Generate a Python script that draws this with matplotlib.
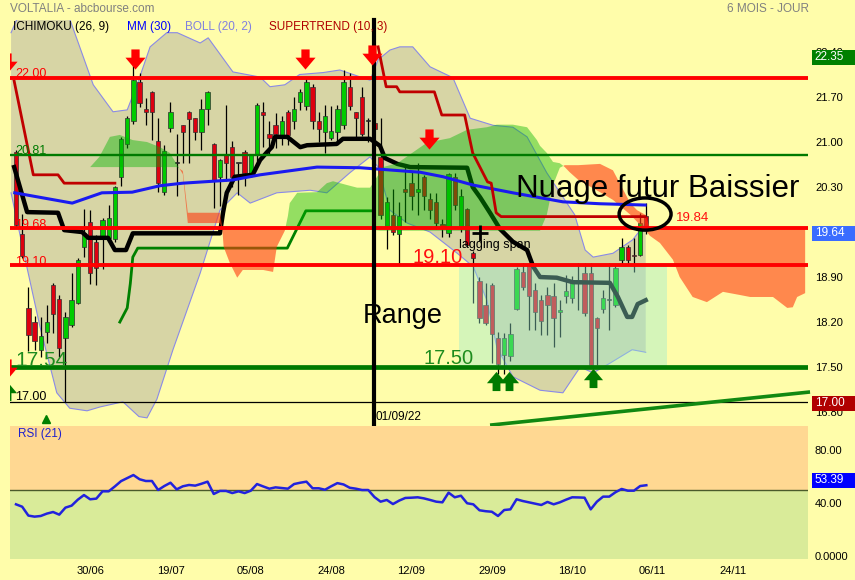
import numpy as np
import matplotlib.pyplot as plt
import matplotlib.transforms as mtrans
from matplotlib.path import Path
from matplotlib.patches import Rectangle, Ellipse

plt.rcParams['font.family'] = ['Liberation Sans', 'DejaVu Sans']

fond = '#FFFDAA'

# bougies journalieres (index 0 = 14/06/22)
opens = [20.85, 19.57, 18.42, 18.20, 17.77, 18.05, 18.77, 18.56, 17.95, 18.15,
         18.50, 19.37, 19.76, 19.45, 19.51, 19.51, 19.49, 20.46, 20.97, 21.32,
         21.94, 21.51, 21.78, 21.02, 20.22, 21.22, 20.67, 21.26, 21.47, 21.37,
         21.16, 21.51, 20.97, 20.46, 20.81, 20.92, 20.67, 20.85, 20.52, 20.80,
         21.47, 21.12, 21.26, 21.11, 21.47, 21.32, 21.63, 21.56, 21.86, 21.33,
         21.16, 21.06, 21.16, 21.26, 21.86, 21.46, 21.70, 21.32, 21.30, 20.77,
         19.70, 19.86, 19.57, 20.27, 20.36, 20.22, 20.46, 20.11, 20.06, 19.72,
         19.58, 20.46, 19.69, 19.96, 19.28, 18.84, 18.46, 18.77, 17.95, 17.69,
         17.67, 18.41, 18.98, 19.09, 18.70, 18.55, 18.62, 18.61, 18.35, 18.61,
         18.58, 18.81, 18.96, 18.96, 18.26, 18.41, 18.54, 18.46, 19.16, 19.36,
         19.25, 19.24, 19.85]
highs = [20.88, 19.88, 18.75, 18.30, 18.28, 18.47, 18.80, 18.62, 18.35, 18.96,
         19.20, 19.96, 19.94, 19.55, 19.82, 20.02, 20.32, 21.08, 21.40, 22.20,
         22.07, 21.68, 21.80, 21.37, 20.95, 21.63, 21.12, 21.27, 21.48, 21.38,
         21.67, 21.79, 20.98, 20.74, 21.58, 21.01, 20.68, 20.87, 20.82, 21.60,
         21.63, 21.33, 21.45, 21.40, 21.50, 21.70, 21.83, 22.00, 21.90, 21.47,
         21.58, 21.56, 21.58, 22.12, 22.07, 21.47, 21.86, 21.37, 21.37, 21.37,
         20.15, 20.27, 20.06, 20.66, 20.55, 20.67, 20.48, 20.20, 20.20, 19.80,
         20.52, 20.52, 20.27, 19.98, 19.30, 18.90, 18.81, 18.80, 18.05, 18.03,
         18.19, 19.05, 19.12, 19.12, 18.81, 18.62, 18.75, 18.81, 18.54, 18.93,
         18.91, 19.12, 19.12, 19.12, 18.28, 18.70, 19.12, 19.09, 19.51, 19.40,
         19.51, 19.90, 20.05]
lows = [19.68, 19.20, 17.75, 17.77, 17.65, 17.87, 18.03, 17.66, 16.96, 18.12,
        18.48, 19.21, 18.79, 18.77, 19.03, 19.45, 19.45, 20.32, 20.90, 21.28,
        21.55, 21.26, 21.03, 20.23, 20.18, 21.16, 20.16, 20.67, 20.67, 21.03,
        20.87, 21.26, 19.97, 20.00, 20.40, 20.30, 20.17, 20.32, 20.45, 20.70,
        20.92, 20.80, 20.90, 20.95, 20.95, 21.20, 21.50, 21.50, 21.20, 21.00,
        20.83, 21.03, 21.00, 21.20, 21.50, 21.03, 21.10, 21.00, 21.10, 19.80,
        19.34, 19.55, 19.09, 19.76, 19.94, 19.86, 19.95, 19.80, 19.65, 19.53,
        19.53, 19.95, 19.60, 19.38, 18.49, 18.18, 18.15, 17.56, 17.40, 17.40,
        17.60, 18.38, 18.70, 18.08, 18.07, 18.00, 18.00, 17.82, 17.97, 18.49,
        18.49, 18.39, 18.30, 17.48, 17.53, 18.34, 18.08, 18.44, 19.09, 19.09,
        18.98, 19.22, 19.57]
closes = [19.71, 19.23, 18.00, 17.90, 17.99, 18.20, 18.33, 17.80, 18.28, 18.54,
          19.17, 19.58, 18.96, 19.04, 19.79, 19.82, 20.30, 21.05, 21.37, 21.96,
          21.61, 21.46, 21.47, 20.36, 20.86, 21.47, 20.67, 21.16, 21.36, 21.16,
          21.51, 21.78, 20.40, 20.72, 20.67, 20.46, 20.67, 20.52, 20.81, 21.58,
          21.42, 21.06, 21.12, 21.33, 21.11, 21.51, 21.78, 21.94, 21.32, 21.21,
          21.41, 21.17, 21.51, 21.94, 21.56, 21.37, 21.12, 21.32, 21.20, 19.86,
          20.07, 19.60, 19.85, 20.22, 20.16, 20.27, 20.16, 19.95, 19.74, 19.68,
          20.51, 20.02, 20.16, 19.40, 19.19, 18.26, 18.19, 18.01, 17.55, 17.95,
          18.01, 19.02, 18.75, 18.60, 18.35, 18.21, 18.46, 18.27, 18.39, 18.68,
          18.82, 18.85, 18.34, 17.53, 18.10, 18.57, 18.54, 19.04, 19.36, 19.16,
          19.23, 19.74, 19.64]

rsi = [39.0, 37.2, 30.5, 29.7, 30.2, 32.0, 33.2, 31.2, 36.5, 38.0,
       42.5, 46.0, 42.8, 43.3, 48.8, 48.8, 52.5, 56.5, 58.8, 61.1,
       57.9, 56.6, 56.6, 49.8, 52.8, 55.3, 50.3, 52.6, 53.6, 53.1,
       54.5, 56.1, 46.8, 49.1, 49.1, 47.5, 48.8, 47.5, 49.3, 54.3,
       52.5, 50.8, 51.8, 51.3, 50.8, 54.3, 55.3, 56.1, 51.1, 51.1,
       50.0, 52.6, 55.0, 54.0, 51.5, 50.8, 49.8, 49.8, 44.5, 41.0,
       42.3, 39.2, 41.8, 43.8, 44.0, 44.3, 43.5, 42.3, 41.0, 40.5,
       47.8, 44.3, 45.5, 39.8, 39.0, 34.5, 33.8, 33.4, 30.2, 34.7,
       35.2, 42.8, 41.5, 40.5, 39.5, 38.5, 40.8, 39.0, 40.5, 42.5,
       44.3, 44.2, 44.0, 35.2, 41.0, 44.8, 44.8, 48.1, 50.6, 49.3,
       49.3, 52.8, 53.4]

# bandes de Bollinger (points releves)
boll_up_x = [-0.8, 1.0, 8.0, 9.9, 12.5, 15.7, 18.0, 19.7, 21.7, 24.4, 26.1, 29.8, 31.1,
             35.1, 39.5, 41.1, 43.5, 45.9, 49.7, 52.4, 57.3, 58.6, 60.5, 62.1, 64.2,
             67.0, 70.7, 73.5, 77.2, 80.4, 82.7, 85.9, 88.8, 90.4, 92.1, 93.4, 96.6,
             99.8, 101.9]
boll_up_y = [22.70, 23.10, 23.10, 22.59, 21.89, 21.47, 21.50, 21.92, 22.48, 22.70, 22.70,
             22.54, 22.62, 22.09, 22.01, 21.86, 21.89, 22.05, 22.08, 22.12, 21.96, 22.28,
             22.43, 22.48, 22.48, 22.17, 22.00, 21.37, 21.26, 21.23, 21.08, 20.52, 20.10,
             19.87, 19.32, 19.21, 19.27, 19.48, 19.74]
boll_low_x = [-0.8, 1.5, 3.9, 6.6, 8.7, 11.5, 13.6, 17.3, 19.9, 21.2, 22.8, 25.4, 29.8,
              33.0, 35.8, 37.9, 42.2, 47.6, 50.3, 54.0, 57.3, 58.6, 60.5, 63.3, 67.0,
              71.4, 74.0, 76.2, 77.8, 80.4, 84.8, 88.5, 91.3, 93.4, 96.1, 99.7, 101.9]
boll_low_y = [20.21, 19.17, 18.12, 17.10, 16.86, 16.82, 16.88, 16.96, 16.73, 16.71, 17.00,
              17.77, 18.96, 19.94, 20.21, 20.05, 20.21, 20.25, 20.21, 20.52, 20.77, 20.61,
              19.94, 19.74, 19.60, 19.27, 19.06, 18.54, 17.81, 17.35, 17.14, 17.10, 17.50,
              17.41, 17.56, 17.77, 17.73]

mm30_x = [-0.2, 9.1, 13.9, 18.8, 23.3, 27.0, 35.1, 39.5, 48.7, 55.7, 65.4, 69.1, 74.0,
          80.4, 88.5, 94.5, 101.8]
mm30_y = [20.21, 20.05, 20.21, 20.22, 20.32, 20.36, 20.41, 20.49, 20.61, 20.60, 20.53,
          20.46, 20.33, 20.21, 20.07, 20.04, 20.02]

# ligne noire ichimoku
kijun_x = [-0.3, 1.8, 6.8, 7.8, 10.7, 11.7, 14.9, 16.0, 17.8, 18.9, 33.0, 33.5, 34.1,
           35.4, 38.3, 39.5, 40.6, 41.4, 41.9, 43.9, 46.0, 47.1, 51.9, 52.9, 57.3, 58.9,
           59.7, 61.7, 63.8, 73.0, 73.9, 75.1, 76.7, 78.3, 80.4, 82.7, 83.7, 84.8, 87.5,
           90.1, 96.1, 97.4, 98.9, 99.7, 100.6, 101.9]
kijun_y = [20.61, 19.91, 19.90, 19.63, 19.60, 19.51, 19.51, 19.32, 19.32, 19.58, 19.58,
           19.90, 20.21, 20.46, 20.49, 20.72, 20.84, 20.92, 21.08, 21.08, 20.92, 20.95,
           20.97, 21.05, 21.05, 20.94, 20.75, 20.66, 20.61, 20.60, 20.30, 20.14, 19.90,
           19.65, 19.45, 19.32, 19.06, 18.90, 18.89, 18.82, 18.81, 18.59, 18.28, 18.28,
           18.48, 18.54]

vert_x = [16.8, 18.0, 18.5, 18.9, 19.7, 43.9, 46.9, 57.8]
vert_y = [18.20, 18.42, 18.80, 19.21, 19.35, 19.35, 19.93, 19.93]

st1_x = [-0.3, 2.8, 6.8, 7.8, 16.0]
st1_y = [21.95, 20.49, 20.49, 20.36, 20.36]
st2_x = [58.6, 59.9, 61.6, 62.1, 67.7, 68.9, 72.6, 73.9, 76.3, 76.9, 77.7, 78.5, 101.8]
st2_y = [22.48, 21.86, 21.86, 21.78, 21.78, 21.42, 21.42, 20.83, 20.38, 20.36, 19.90,
         19.84, 19.84]

# nuage (senkou A / B)
cloud_x = [12.0, 13.5, 15.2, 16.8, 18.9, 21.2, 23.3, 24.9, 26.1, 27.0, 27.8, 33.0, 33.4,
           33.6, 34.6, 35.8, 36.7, 40.0, 41.6, 42.2, 43.5, 44.0, 44.3, 45.5, 48.7, 50.3,
           51.3, 53.6, 55.2, 57.3, 58.9, 59.4, 61.7, 66.5, 70.2, 73.0, 76.2, 77.8, 80.4,
           82.7, 84.3, 84.8, 85.9, 86.9, 88.0, 88.8, 89.6, 91.0, 94.5, 96.6, 99.4, 100.5,
           101.8, 102.6, 104.2, 106.3, 107.4, 109.5, 111.8, 114.4, 117.2, 118.8, 122.5,
           124.8, 125.7, 126.4, 127.7]
span_a = [20.61, 20.77, 21.08, 21.11, 21.03, 21.00, 20.92, 20.83, 20.64, 20.50, 19.74,
          19.74, 19.63, 19.37, 19.12, 18.89, 19.01, 19.01, 18.98, 19.37, 19.62, 19.85,
          20.05, 20.21, 20.22, 20.36, 20.39, 20.33, 20.29, 20.29, 20.53, 20.61, 20.67,
          20.99, 21.06, 21.19, 21.23, 21.27, 21.27, 21.23, 21.03, 20.94, 20.83, 20.69,
          20.67, 20.61, 20.53, 20.41, 20.22, 20.10, 19.87, 19.76, 19.63, 19.54, 19.43,
          19.17, 18.90, 18.59, 18.51, 18.67, 18.62, 18.59, 18.59, 18.42, 18.43, 18.59,
          18.65]
span_b = [20.61, 20.61, 20.61, 20.61, 20.61, 20.61, 20.61, 20.61, 20.61, 20.55, 19.90,
          19.90, 19.66, 19.66, 19.66, 19.66, 19.66, 19.66, 19.66, 19.66, 19.66, 19.64,
          19.64, 19.64, 19.64, 19.64, 19.64, 19.64, 19.64, 19.64, 19.62, 19.62, 19.62,
          19.62, 19.62, 19.62, 19.62, 19.62, 19.62, 19.62, 19.62, 19.62, 19.87, 20.33,
          20.60, 20.64, 20.64, 20.64, 20.66, 20.56, 20.05, 19.94, 19.87, 19.66, 19.66,
          19.66, 19.66, 19.66, 19.66, 19.66, 19.66, 19.66, 19.66, 19.66, 19.66, 19.66,
          19.66]

# niveaux traces a la main
niveaux = [22.00, 20.80, 19.66, 19.08, 17.50]
niveaux_txt = ['22.00', '20.81', '19.68', '19.10', '17.54']
niveaux_col = ['#FF0000', '#007A00', '#FF0000', '#FF0000', '#007A00']
niveaux_lw = [2.8, 1.7, 2.8, 2.8, 3.4]
support_bas = 16.96

trend_x = [77.0, 128.2]
trend_y = [16.60, 17.11]

sell_x = [-1.46, 19.2, 46.8, 57.6, 66.8, -1.46]
sell_y = [22.23, 22.29, 22.29, 22.35, 21.05, 17.47]
buy_x = [77.6, 79.7, 93.3, -1.46]
buy_y = [17.28, 17.28, 17.33, 17.13]

split_day = 57.9
date_pos = [12, 25, 38, 51, 64, 77, 90, 103, 116]
date_lab = ['30/06', '19/07', '05/08', '24/08', '12/09', '29/09', '18/10', '06/11', '24/11']
prix_ticks = [16.8, 17.5, 18.2, 18.9, 19.6, 20.3, 21.0, 21.7, 22.4]

days = np.arange(len(closes))
o = np.array(opens); c = np.array(closes)

fig = plt.figure(figsize=(8.55, 5.8), dpi=100)
fig.patch.set_facecolor(fond)
ax = fig.add_axes([10/855, 1-420/580, 798/855, 400/580])
ax2 = fig.add_axes([10/855, 1-559/580, 798/855, 133/580])
for a in (ax, ax2):
    a.set_facecolor(fond)
    for s in a.spines.values():
        s.set_visible(False)
    a.set_xlim(-0.97, 128.16)
ax.set_ylim(16.677, 22.8975)
ax2.set_ylim(-2.26, 98.1)

# bollinger
ax.fill(np.r_[boll_up_x, boll_low_x[::-1]], np.r_[boll_up_y, boll_low_y[::-1]],
        color='#D7D5A5', lw=0, zorder=1)
ax.plot(boll_up_x, boll_up_y, color='#8A8AE6', lw=0.8, zorder=1.2)
ax.plot(boll_low_x, boll_low_y, color='#8A8AE6', lw=0.8, zorder=1.2)

# chandeliers
up = c >= o
col = np.where(up, '#00CC00', '#DD0010')
haut = np.abs(c - o)
col = np.where(haut < 0.005, '#000000', col)
ax.vlines(days, lows, highs, color='black', lw=0.9, zorder=2)
ax.bar(days, np.maximum(haut, 0.018), bottom=np.minimum(o, c), width=0.7, color=col,
       edgecolor='#303030', lw=0.5, zorder=2.1)

ax.plot(kijun_x, kijun_y, color='black', lw=3.2, zorder=2.3, solid_joinstyle='round')
ax.plot(vert_x, vert_y, color='#008000', lw=2, zorder=2.3)

# nuage
ca = np.array(span_a); cb = np.array(span_b)
ax.fill_between(cloud_x, ca, cb, where=ca >= cb, interpolate=True, color='#00B400',
                alpha=0.42, lw=0, zorder=3)
ax.fill_between(cloud_x, ca, cb, where=ca < cb, interpolate=True, color='#FF3A10',
                alpha=0.6, lw=0, zorder=3)

# zone de range
ax.add_patch(Rectangle((71.7, 17.52), 105.3-71.7, 19.07-17.52, color='#96EBD2',
                       alpha=0.4, lw=0, zorder=3.5))

ax.plot(mm30_x, mm30_y, color='#1A1AF0', lw=2.2, zorder=4)
ax.plot(st1_x, st1_y, color='#C00000', lw=2, zorder=4)
ax.plot(st2_x, st2_y, color='#C00000', lw=2, zorder=4)

for v, t, cl, lw in zip(niveaux, niveaux_txt, niveaux_col, niveaux_lw):
    ax.axhline(v, color=cl, lw=lw, zorder=5)
for v, t, cl in zip(niveaux[:4], niveaux_txt[:4], niveaux_col[:4]):
    ax.text(-0.15, v + 0.01, t, color=cl, fontsize=9, va='baseline', zorder=6)
ax.text(-0.15, 17.52, niveaux_txt[4], color='#1E8C1E', fontsize=15, va='baseline', zorder=6)
ax.axhline(support_bas, color='black', lw=0.9, zorder=5)
ax.text(-0.15, 16.99, '17.00', color='black', fontsize=9, va='baseline', zorder=6)

ax.plot(trend_x, trend_y, color='#118811', lw=2.6, zorder=5, clip_on=False)

ax.plot([split_day, split_day], [16.537, 22.8975], color='black', lw=3, zorder=6,
        clip_on=False)
ax.text(split_day + 0.35, 16.73, '01/09/22', fontsize=8.5, va='center', zorder=6)

# fleches supertrend
fl_bas = Path([(-0.41, 1), (0.41, 1), (0.41, 0.18), (1, 0.18), (0, -1), (-1, 0.18),
               (-0.41, 0.18), (-0.41, 1)], closed=True)
fl_haut = Path([(-0.41, -1), (0.41, -1), (0.41, -0.18), (1, -0.18), (0, 1), (-1, -0.18),
                (-0.41, -0.18), (-0.41, -1)], closed=True)
ax.scatter(sell_x, sell_y, marker=fl_bas, s=210, color='#FF0000', lw=0, zorder=7)
ax.scatter(buy_x, buy_y, marker=fl_haut, s=190, color='#007A00', lw=0, zorder=7)
ax.plot(4.85, 16.70, marker='^', ms=6, color='#008000', zorder=7, clip_on=False)

# annotations
ax.text(80.9, 20.145, 'Nuage futur Baissier', fontsize=22.5, va='baseline', zorder=7)
ax.text(56.1, 18.18, 'Range', fontsize=19.5, va='baseline', zorder=7)
ax.text(64.1, 19.114, '19.10', fontsize=14.5, color='#FF1010', va='baseline', zorder=7)
ax.text(66.0, 17.55, '17.50', fontsize=14.5, color='#1E8C1E', va='baseline', zorder=7)
ax.text(71.7, 19.35, 'lagging span', fontsize=9, va='baseline', zorder=7)
ax.plot(75.1, 19.585, marker='+', ms=11, mew=2, color='black', zorder=7)
ax.text(106.8, 19.82, '19.84', fontsize=9.5, color='#FF1010', va='center', zorder=7)
ax.add_patch(Ellipse((101.8, 19.88), 8.4, 0.50, fill=False, ec='black', lw=2.5, zorder=7))

# axe des prix
ax.yaxis.tick_right()
ax.set_yticks(prix_ticks)
ax.set_yticklabels(['%.2f' % v for v in prix_ticks])
ax.tick_params(axis='y', length=0, pad=5, labelsize=8)
ax.set_xticks([])


def etiquette(a, val, txt, fc, dy):
    # petite case coloree collee au bord droit
    y0, y1 = a.get_ylim()
    par_px = (y1 - y0) / (a.get_position().height * 580)
    yc = val + dy * par_px
    tr = mtrans.blended_transform_factory(a.transAxes, a.transData)
    a.add_patch(Rectangle((1.005, yc - 7.5 * par_px), 0.06, 15 * par_px, transform=tr,
                          fc=fc, ec='none', clip_on=False, zorder=8))
    a.text(1.0085, yc, txt, transform=tr, color='white', fontsize=8.5, va='center',
           ha='left', zorder=9, clip_on=False)


etiquette(ax, 22.35, '22.35', '#008000', -2)
etiquette(ax, closes[-1], '%.2f' % closes[-1], '#3A6CFF', -4)
etiquette(ax, 17.00, '17.00', '#B00000', -4)

# RSI
ax2.axhspan(50, 110, color='#FFD892', lw=0, zorder=0)
ax2.axhspan(-10, 50, color='#D9EB99', lw=0, zorder=0)
ax2.axhline(50, color='#4A5A2A', lw=1, zorder=1)
ax2.plot(days, rsi, color='#2222DD', lw=1.8, zorder=2)
ax2.text(0.3, 92, 'RSI (21)', color='#2020CC', fontsize=8.5, va='center')
ax2.yaxis.tick_right()
ax2.set_yticks([0, 40, 80])
ax2.set_yticklabels(['0.0000', '40.00', '80.00'])
ax2.tick_params(axis='y', length=0, pad=5, labelsize=8)
ax2.set_xticks(date_pos)
ax2.set_xticklabels(date_lab)
ax2.tick_params(axis='x', length=0, pad=5, labelsize=8)
etiquette(ax2, rsi[-1], '53.39', '#0000FF', 5)

# entete
fig.text(10/855, 1-9/580, 'VOLTALIA - abcbourse.com', color='#808080', fontsize=8.5,
         va='center')
fig.text(809/855, 1-9/580, '6 MOIS - JOUR', color='#808080', fontsize=8.5, va='center',
         ha='right')
legende = [('ICHIMOKU (26, 9)', 'black', 13), ('MM (30)', '#0000FF', 127),
           ('BOLL (20, 2)', '#8080E0', 185), ('SUPERTREND (10, 3)', '#B00000', 269)]
for t, cl, xp in legende:
    fig.text(xp/855, 1-27/580, t, color=cl, fontsize=8.5, va='center')

fig.savefig('out.png', dpi=100, facecolor=fond)
